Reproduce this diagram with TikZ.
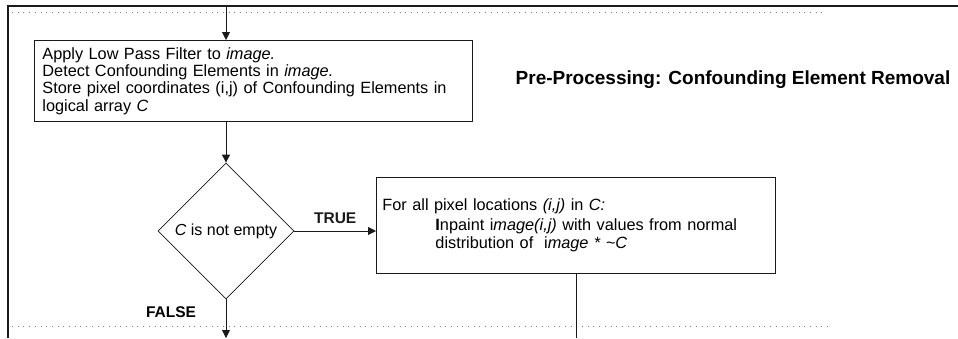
\documentclass[tikz,border=0pt]{standalone}
\usepackage{fontspec}
\setmainfont{Liberation Sans}
\usepackage{xcolor}
\usepackage{tikz}
\usetikzlibrary{arrows.meta,positioning,shapes.geometric}
\definecolor{inkx}{HTML}{1A1A1A}
\definecolor{dotx}{HTML}{808080}
\tikzset{
  ar/.style={-{Triangle[length=8pt,width=8pt]},line width=0.9pt,inkx},
  ln/.style={line width=0.9pt,inkx},
  box/.style={draw=inkx,line width=0.9pt,align=left,inner xsep=8pt,inner ysep=0pt,anchor=north west,font=\fontsize{16.3}{17.3}\selectfont},
  test/.style={draw=inkx,line width=0.8pt,diamond,minimum width=136pt,minimum height=136pt,inner sep=0pt,font=\fontsize{16}{18}\selectfont},
  lbl/.style={font=\fontsize{15.5}{17}\selectfont\bfseries,inner sep=1pt},
  sep/.style={dotx,line width=1pt,dash pattern=on 1pt off 4.7pt}
}

\begin{document}
\begin{tikzpicture}[x=1pt,y=-1pt]
\useasboundingbox (0,0) rectangle (958,338);
\draw[inkx,line width=1.6pt] (958,6)--(8,6)--(8,338);
\draw[sep] (12,12)--(822,12);
\draw[sep] (12,326)--(830,326);
\node[box,text width=422pt,minimum height=81pt] (filter) at (34,40)
  {Apply Low Pass Filter to \textit{image.}\\
   Detect Confounding Elements in \textit{image.}\\
   Store pixel coordinates (i,j) of Confounding Elements in\\
   logical array \textit{C}};
\node[font=\fontsize{19}{21}\selectfont\bfseries,inner sep=0pt] (title) at (733,80) {Pre-Processing: Confounding Element Removal};
\node[test] (check) at (226,231) {\textit{C} is not empty};
\node[box,text width=387pt,minimum height=96pt,inner xsep=6pt] (inpaint) at (376,177)
  {For all pixel locations \textit{(i,j)} in \textit{C:}\\[2.5pt]
   \hspace*{53pt}\textbf{I}npaint i\textit{mage(i,j)} with values from normal\\[1.5pt]
   \hspace*{53pt}distribution of\ \ i\textit{mage * \textasciitilde C}};
\coordinate (enter) at (226,6);
\coordinate (falseout) at (226,338);
\coordinate (trueout) at (576,338);
\draw[ar] (enter)--(filter.north-|enter);
\draw[ar] (filter.south-|check)--(check.north);
\draw[ar] (check.east)--(inpaint.west|-check) node[lbl,midway,above=6pt] {TRUE};
\draw[ar] (check.south)--(falseout);
\draw[ln] (inpaint.south-|trueout)--(trueout);
\node[lbl] (false) at (171,312) {FALSE};
\end{tikzpicture}
\end{document}
